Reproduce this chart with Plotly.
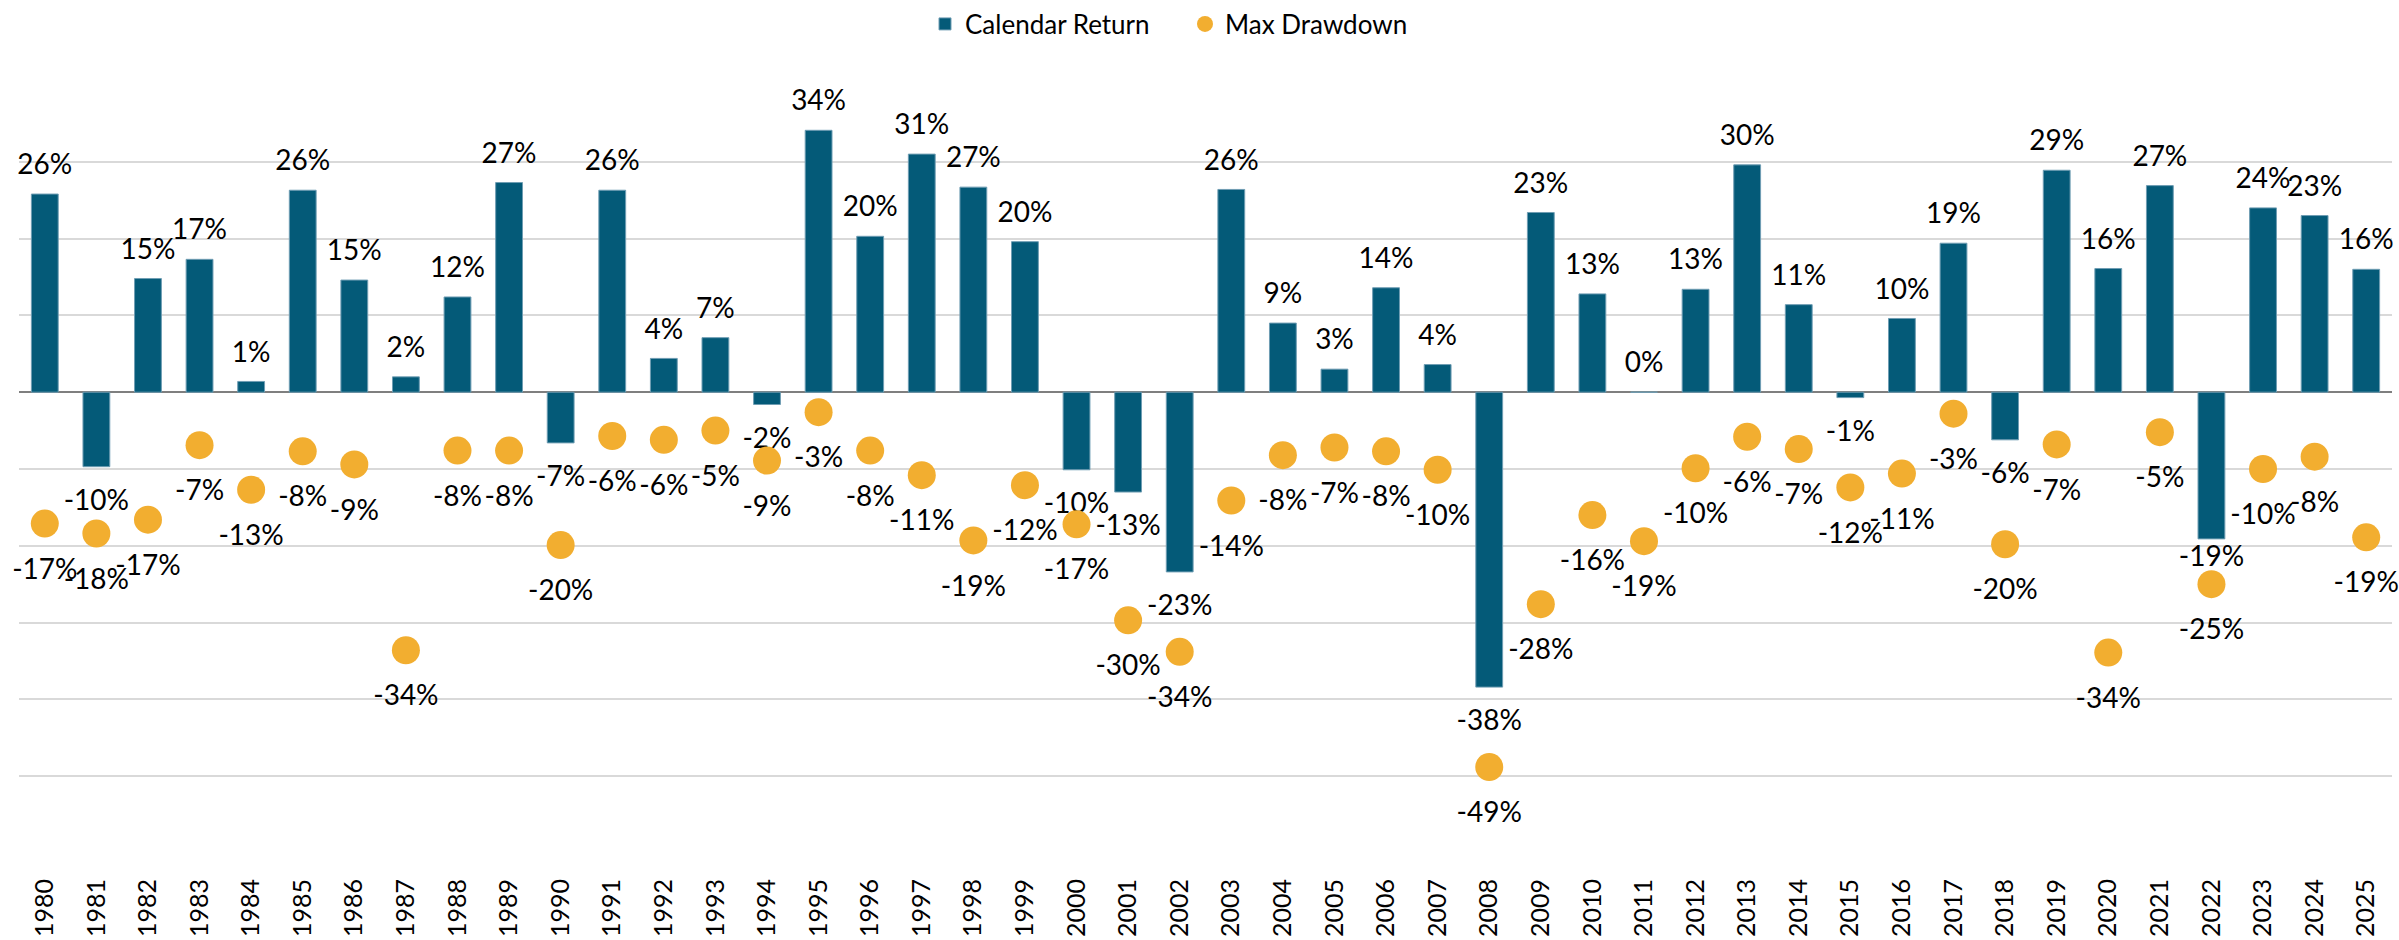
import plotly.graph_objects as go

years = [str(y) for y in range(1980, 2026)]
calendar_return = [25.8, -9.7, 14.8, 17.3, 1.4, 26.3, 14.6, 2.0, 12.4, 27.3,
                   -6.6, 26.3, 4.4, 7.1, -1.6, 34.1, 20.3, 31.0, 26.7, 19.6,
                   -10.1, -13.0, -23.4, 26.4, 9.0, 3.0, 13.6, 3.6, -38.4, 23.4,
                   12.8, 0.0, 13.4, 29.6, 11.4, -0.7, 9.6, 19.4, -6.2, 28.9,
                   16.1, 26.9, -19.1, 24.0, 23.0, 16.0]
max_drawdown = [-17.1, -18.4, -16.6, -6.9, -12.7, -7.7, -9.4, -33.6, -7.6, -7.6,
                -19.9, -5.7, -6.2, -5.0, -8.9, -2.6, -7.6, -10.8, -19.3, -12.1,
                -17.2, -29.7, -33.8, -14.1, -8.2, -7.2, -7.7, -10.1, -48.8, -27.6,
                -16.0, -19.4, -9.9, -5.8, -7.4, -12.4, -10.6, -2.8, -19.8, -6.8,
                -33.9, -5.2, -25.0, -10.0, -8.4, -18.9]

ret_text = [f"{v:.0f}%" for v in calendar_return]
dd_text = [f"{v:.0f}%" for v in max_drawdown]

BAR = "#045a78"
DOT = "#F2AE30"
FONT = "Lato"
LABEL_SIZE = 28

# label placement (style, derived from the sign of each value)
ret_pos = ["top center" if v >= 0 else "bottom center" for v in calendar_return]
ret_pad = [19 if v >= 0 else 34 for v in calendar_return]
ret_pad[years.index("2022")] = 8   # squeezed above the 2022 drawdown dot, as in the original

fig = go.Figure()
fig.add_trace(go.Bar(
    x=years, y=calendar_return, name="Calendar Return",
    marker=dict(color=BAR, line=dict(width=1, color="#6f9db3")),
    hoverinfo="x+y",
))
fig.add_trace(go.Scatter(
    x=years, y=calendar_return, mode="markers+text", showlegend=False,
    marker=dict(color=BAR, size=ret_pad, opacity=0, line=dict(width=0)),
    text=ret_text, textposition=ret_pos,
    textfont=dict(family=FONT, size=LABEL_SIZE, color="#000000"),
    cliponaxis=False, hoverinfo="skip",
))
fig.add_trace(go.Scatter(
    x=years, y=max_drawdown, name="Max Drawdown", mode="markers",
    marker=dict(color=DOT, size=28, line=dict(width=0)),
    cliponaxis=False,
))
fig.add_trace(go.Scatter(
    x=years, y=max_drawdown, mode="markers+text", showlegend=False,
    marker=dict(color=DOT, size=53, opacity=0, line=dict(width=0)),
    text=dd_text, textposition="bottom center",
    textfont=dict(family=FONT, size=LABEL_SIZE, color="#000000"),
    cliponaxis=False, hoverinfo="skip",
))

fig.update_layout(
    width=2399, height=940,
    margin=dict(l=19, r=7, t=85, b=87, autoexpand=False),
    paper_bgcolor="white", plot_bgcolor="white",
    bargap=0.48,
    font=dict(family=FONT, color="#000000"),
    legend=dict(orientation="h", xref="container", yref="container",
                x=925 / 2399, xanchor="left", y=1 - 24 / 940, yanchor="middle",
                entrywidth=215, entrywidthmode="pixels",
                font=dict(family=FONT, size=26), itemsizing="trace",
                bgcolor="rgba(0,0,0,0)"),
    showlegend=True,
)
fig.update_yaxes(range=[-60, 40], dtick=10, showticklabels=False, automargin=False,
                 showgrid=True, gridcolor="#D9D9D9", gridwidth=1.5,
                 zeroline=True, zerolinecolor="#7F7F7F", zerolinewidth=2)
fig.update_xaxes(type="category", range=[-0.5, 45.5], automargin=False,
                 showgrid=False, tickangle=-90,
                 tickfont=dict(family=FONT, size=25, color="#000000"),
                 ticks="", ticklen=0, ticklabelstandoff=20)

fig.write_html("out.html", config={"displayModeBar": False},
               post_script="document.body.style.margin='0';document.body.style.padding='0';")
